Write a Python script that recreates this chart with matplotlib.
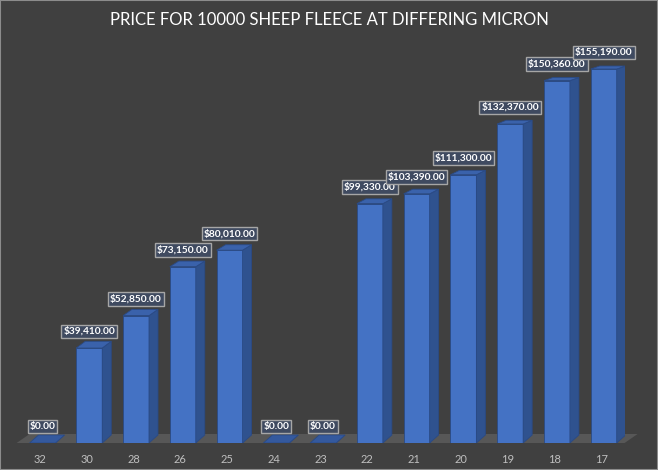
import matplotlib
matplotlib.use("Agg")
import matplotlib.pyplot as plt
from matplotlib.patches import Polygon, Rectangle

categories = ["32", "30", "28", "26", "25", "24", "23", "22", "21", "20", "19", "18", "17"]
prices = [0, 39410, 52850, 73150, 80010, 0, 0, 99330, 103390, 111300, 132370, 150360, 155190]
title = "PRICE FOR 10000 SHEEP FLEECE AT DIFFERING MICRON"

W, H = 658, 470
fig = plt.figure(figsize=(W / 100, H / 100), dpi=100)
fig.patch.set_facecolor("#404040")
fig.patches.append(Rectangle((0, 0), 1, 1, transform=fig.transFigure, fill=False,
                             edgecolor="#8c8c8c", linewidth=1.5, zorder=10))

ymax = 160000
left_px, right_px = 16.6, 624.6
bottom_px = 470 - 443
px_per_val = (443 - 69) / 155190.0
ax_h_px = ymax * px_per_val
ax = fig.add_axes([left_px / W, bottom_px / H, (right_px - left_px) / W, ax_h_px / H])
ax.set_xlim(-0.5, len(categories) - 0.5)
ax.set_ylim(0, ymax)
ax.set_facecolor("none")
for s in ax.spines.values():
    s.set_visible(False)
ax.set_yticks([])
ax.set_xticks(range(len(categories)))
ax.set_xticklabels(categories, color="#bfbfbf", fontsize=8, fontfamily="Lato")
ax.tick_params(axis="x", length=0, pad=8)

px_per_cat = (right_px - left_px) / len(categories)
def dxc(px):
    return px / px_per_cat
def dyv(px):
    return px / px_per_val

# floor
n = len(categories)
fdx, fdy = dxc(13), dyv(9)
floor = Polygon([(-0.5, 0), (n - 0.5, 0), (n - 0.5 + fdx, fdy), (-0.5 + fdx, fdy)],
                closed=True, facecolor="#575757", edgecolor="none", zorder=1, clip_on=False)
ax.add_patch(floor)

w = 0.555
shift = dxc(2.5)
bdx = dxc(9)
def bdy(h):
    return dyv(8 - 5 * h / 155190.0)

front_c = "#4472c4"
side_c = "#2f528f"
top_c = "#3a62ab"
edge_c = "#2a4a85"

xs = [i + shift for i in range(n)]
bars = ax.bar(xs, prices, width=w, color=front_c, edgecolor=edge_c, linewidth=0.6, zorder=3)
for x, h in zip(xs, prices):
    r = x + w / 2
    l = x - w / 2
    side = Polygon([(r, 0), (r + bdx, bdy(0)), (r + bdx, h + bdy(h)), (r, h)], closed=True,
                   facecolor=side_c, edgecolor=edge_c, linewidth=0.6, zorder=3)
    top = Polygon([(l, h), (r, h), (r + bdx, h + bdy(h)), (l + bdx, h + bdy(h))], closed=True,
                  facecolor=top_c if h > 0 else "#34599e", edgecolor=edge_c, linewidth=0.6, zorder=4)
    ax.add_patch(side)
    ax.add_patch(top)
    ax.annotate("${:,.2f}".format(h), (x, h), xytext=(0, 12), textcoords="offset points",
                ha="center", va="center", color="white", fontsize=7.3, fontweight="bold",
                fontfamily="Lato", zorder=6,
                bbox=dict(boxstyle="square,pad=0.2", facecolor="#3f4a60", edgecolor="#a6a6a6",
                          linewidth=1))

fig.text(0.5, 1 - 20 / H, title, ha="center", va="center", color="white", fontsize=12,
         fontfamily="Lato")

fig.savefig("out.png", dpi=100, facecolor=fig.get_facecolor())
